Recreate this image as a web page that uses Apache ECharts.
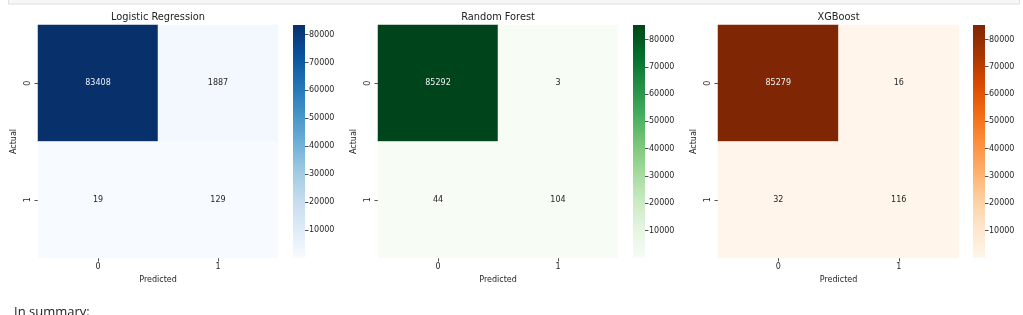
<!DOCTYPE html>
<html>
<head>
<meta charset="utf-8">
<script src="https://cdn.jsdelivr.net/npm/echarts@6/dist/echarts.min.js"></script>
<style>
html,body{margin:0;padding:0;background:#fff;}
#chart{width:1023px;height:315px;}
</style>
</head>
<body>
<div id="chart"></div>
<script>
// ---- data ----
const modelNames = ['Logistic Regression', 'Random Forest', 'XGBoost'];
const predictedLabels = ['0', '1'];
const actualLabels = ['0', '1'];
const lrMatrix = [[83408, 1887], [19, 129]];
const rfMatrix = [[85292, 3], [44, 104]];
const xgbMatrix = [[85279, 16], [32, 116]];
const colorbarTicks = [10000, 20000, 30000, 40000, 50000, 60000, 70000, 80000];
const summaryText = 'In summary:';

// ---- styles ----
const blues = ['#f7fbff','#deebf7','#c6dbef','#9ecae1','#6baed6','#4292c6','#2171b5','#08519c','#08306b'];
const greens = ['#f7fcf5','#e5f5e0','#c7e9c0','#a1d99b','#74c476','#41ab5d','#238b45','#006d2c','#00441b'];
const oranges = ['#fff5eb','#fee6ce','#fdd0a2','#fdae6b','#fd8d3c','#f16913','#d94801','#a63603','#7f2704'];
const matrices = [lrMatrix, rfMatrix, xgbMatrix];
const palettes = [blues, greens, oranges];
const gridLefts = [38, 378, 718];
const gridWidths = [240, 240, 241];
const cbLefts = [293, 633, 973];
const CBW = 12;
const TOP = 25, H = 233;
const FONT = 'DejaVu Sans';
const FS = 8;
const TXT = '#262626';

const grids = [], xAxes = [], yAxes = [], series = [], visualMaps = [], graphics = [];

matrices.forEach((m, i) => {
  const flat = m.flat();
  const vmin = Math.min(...flat), vmax = Math.max(...flat);
  // heatmap grid
  grids.push({left: gridLefts[i], top: TOP, width: gridWidths[i], height: H});
  xAxes.push({
    type: 'category', gridIndex: grids.length - 1, data: predictedLabels,
    name: 'Predicted', nameLocation: 'middle', nameGap: 18,
    nameTextStyle: {fontFamily: FONT, fontSize: FS, color: TXT},
    axisLine: {show: false},
    axisTick: {show: true, alignWithLabel: true, length: 3.5, lineStyle: {color: TXT, width: 0.8}},
    axisLabel: {fontFamily: FONT, fontSize: FS, color: TXT, margin: 5},
    splitLine: {show: false}
  });
  yAxes.push({
    type: 'category', gridIndex: grids.length - 1, data: actualLabels, inverse: true,
    name: 'Actual', nameLocation: 'middle', nameGap: 20,
    nameTextStyle: {fontFamily: FONT, fontSize: FS, color: TXT},
    axisLine: {show: false},
    axisTick: {show: true, alignWithLabel: true, length: 3.5, lineStyle: {color: TXT, width: 0.8}},
    axisLabel: {fontFamily: FONT, fontSize: FS, color: TXT, rotate: 90, margin: 6},
    splitLine: {show: false}
  });
  const data = [];
  m.forEach((row, r) => row.forEach((v, c) => {
    data.push({
      value: [c, r, v],
      label: {color: (v - vmin) / (vmax - vmin) > 0.5 ? '#eef0f4' : TXT}
    });
  }));
  series.push({
    type: 'heatmap', xAxisIndex: xAxes.length - 1, yAxisIndex: yAxes.length - 1,
    data: data,
    label: {show: true, fontFamily: FONT, fontSize: FS, formatter: p => String(p.value[2])},
    itemStyle: {borderWidth: 0},
    emphasis: {disabled: true}
  });
  visualMaps.push({
    type: 'continuous', show: false, seriesIndex: series.length - 1, min: vmin, max: vmax,
    inRange: {color: palettes[i]}
  });
  // colorbar axis
  grids.push({left: cbLefts[i], top: TOP, width: CBW, height: H});
  xAxes.push({type: 'value', gridIndex: grids.length - 1, show: false, min: 0, max: 1});
  yAxes.push({
    type: 'value', gridIndex: grids.length - 1, position: 'right', min: 0, max: vmax,
    axisLine: {show: false, onZero: false}, splitLine: {show: false},
    axisTick: {show: true, inside: false, length: 3.5, customValues: colorbarTicks, lineStyle: {color: TXT, width: 0.8}},
    axisLabel: {show: true, customValues: colorbarTicks, fontFamily: FONT, fontSize: FS, color: TXT, margin: 4,
      formatter: v => String(v)}
  });
  // colorbar gradient (top = max colour)
  const stops = palettes[i].map((c, k) => ({offset: 1 - k / (palettes[i].length - 1), color: c}));
  graphics.push({
    type: 'rect', shape: {x: cbLefts[i], y: TOP, width: CBW, height: H}, z: -1,
    style: {fill: new echarts.graphic.LinearGradient(0, 0, 0, 1, stops.slice().reverse())}
  });
  graphics.push({
    type: 'text', x: gridLefts[i] + gridWidths[i] / 2, y: 17,
    style: {text: modelNames[i], fontFamily: FONT, fontSize: 9.8, fill: '#222', textAlign: 'center', textVerticalAlign: 'middle'}
  });
});

// notebook chrome
graphics.push({type: 'rect', shape: {x: 8.5, y: -6, width: 1011, height: 10}, style: {fill: '#f7f7f7', stroke: '#dfdfdf', lineWidth: 1}});
graphics.push({type: 'text', x: 14, y: 306, style: {text: summaryText, fontFamily: 'Open Sans', fontSize: 13, fill: '#222', textVerticalAlign: 'top'}});

const chart = echarts.init(document.getElementById('chart'), null, {renderer: 'canvas'});
chart.setOption({
  animation: false,
  backgroundColor: '#ffffff',
  grid: grids, xAxis: xAxes, yAxis: yAxes,
  visualMap: visualMaps, series: series, graphic: graphics,
  tooltip: {show: false}
});
</script>
</body>
</html>
